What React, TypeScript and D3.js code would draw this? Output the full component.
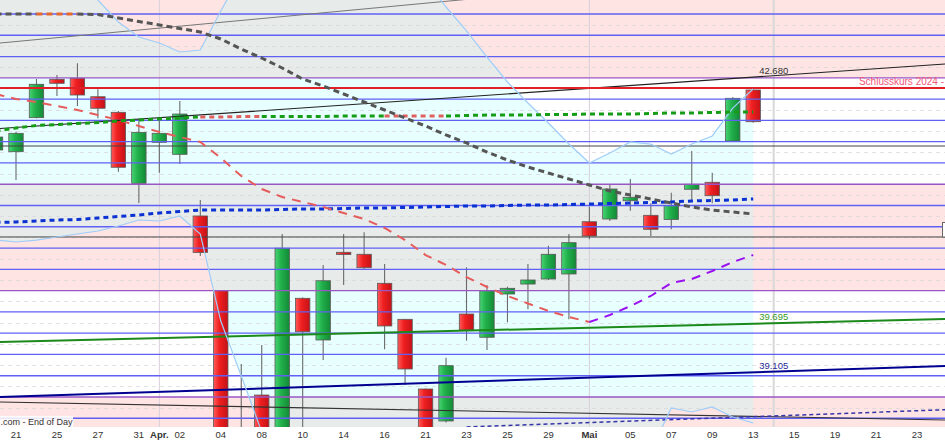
import React, { useRef, useEffect } from 'react';
import * as d3 from 'd3';

const W = 945;
const H = 442;
const PLOT_B = 427;
const FONT = '"Liberation Sans", Arial, sans-serif';

// trading days on the axis
const dates = [
  '2025-03-20', '2025-03-21', '2025-03-24', '2025-03-25', '2025-03-26', '2025-03-27', '2025-03-28',
  '2025-03-31', '2025-04-01', '2025-04-02', '2025-04-03', '2025-04-04', '2025-04-07', '2025-04-08',
  '2025-04-09', '2025-04-10', '2025-04-11', '2025-04-14', '2025-04-15', '2025-04-16', '2025-04-17',
  '2025-04-21', '2025-04-22', '2025-04-23', '2025-04-24', '2025-04-25', '2025-04-28', '2025-04-29',
  '2025-04-30', '2025-05-01', '2025-05-02', '2025-05-05', '2025-05-06', '2025-05-07', '2025-05-08',
  '2025-05-09', '2025-05-12', '2025-05-13', '2025-05-14', '2025-05-15', '2025-05-16', '2025-05-19',
  '2025-05-20', '2025-05-21', '2025-05-22', '2025-05-23', '2025-05-26',
];
const tickLabels = [
  '', '21', '', '25', '', '27', '', '31', 'Apr.', '02', '', '04', '', '08', '', '10', '', '14', '',
  '16', '', '21', '', '23', '', '25', '', '29', '', 'Mai', '', '05', '', '07', '', '09', '', '13', '',
  '15', '', '19', '', '21', '', '23', '',
];

// OHLC
const open = [41.776, 41.755, 42.168, 42.634, 42.646, 42.422, 42.233, 41.371, 41.869, 41.723, 40.975, 40.068, 37.6, 38.802, 38.3, 39.976, 39.47, 40.534, 40.51, 40.158, 39.721, 38.875, 38.487, 39.785, 39.503, 40.028, 40.149, 40.21, 40.271, 40.905, 40.938, 41.16, 40.983, 40.932, 41.299, 41.384, 41.885, 42.504];
const high = [42.018, 41.998, 42.637, 42.686, 42.828, 42.512, 42.249, 42.152, 42.164, 42.37, 41.169, 40.075, 39.178, 39.409, 40.756, 39.985, 40.38, 40.756, 40.777, 40.392, 39.726, 38.88, 39.255, 40.352, 40.137, 40.117, 40.392, 40.614, 40.756, 41.087, 41.351, 41.424, 41.129, 41.257, 41.763, 41.5, 42.415, 42.512];
const low = [41.654, 41.412, 42.16, 42.431, 42.31, 42.16, 41.512, 41.132, 41.5, 41.606, 40.489, 37.9, 37.0, 38.0, 38.1, 38.35, 39.227, 40.137, 40.319, 39.357, 38.924, 38.2, 38.47, 39.461, 39.348, 39.685, 39.842, 40.198, 39.721, 40.692, 40.914, 41.039, 40.732, 40.813, 41.148, 41.129, 41.879, 42.107];
const close = [41.933, 41.978, 42.573, 42.585, 42.443, 42.282, 41.566, 41.99, 41.978, 42.212, 40.532, 38.05, 38.1, 38.2, 40.583, 39.57, 40.189, 40.507, 40.347, 39.64, 39.118, 38.3, 39.158, 39.591, 40.068, 40.097, 40.198, 40.51, 40.651, 40.732, 41.302, 41.202, 40.813, 41.1, 41.359, 41.221, 42.403, 42.119];

// moving averages
const maGrey = [43.426, 43.426, 43.426, 43.426, 43.426, 43.42, 43.378, 43.335, 43.293, 43.25, 43.208, 43.123, 43.001, 42.892, 42.771, 42.637, 42.552, 42.455, 42.358, 42.261, 42.164, 42.067, 41.958, 41.861, 41.751, 41.654, 41.569, 41.496, 41.424, 41.351, 41.278, 41.229, 41.181, 41.132, 41.084, 41.047, 41.023, 40.999];
const maGreen = [42.006, 42.043, 42.073, 42.085, 42.097, 42.109, 42.128, 42.14, 42.152, 42.164, 42.176, 42.176, 42.182, 42.182, 42.182, 42.182, 42.182, 42.188, 42.188, 42.188, 42.188, 42.188, 42.188, 42.194, 42.2, 42.2, 42.2, 42.206, 42.206, 42.212, 42.212, 42.212, 42.219, 42.225, 42.225, 42.231, 42.237, 42.237];
const maBlue = [40.896, 40.902, 40.914, 40.926, 40.932, 40.95, 40.969, 40.987, 41.011, 41.029, 41.047, 41.047, 41.047, 41.047, 41.054, 41.06, 41.06, 41.066, 41.072, 41.072, 41.078, 41.084, 41.09, 41.096, 41.096, 41.102, 41.108, 41.108, 41.114, 41.12, 41.126, 41.132, 41.138, 41.145, 41.157, 41.163, 41.169, 41.181];
const maRed = [42.455, 42.395, 42.358, 42.31, 42.261, 42.2, 42.14, 42.067, 41.994, 41.933, 41.873, 41.679, 41.46, 41.302, 41.205, 41.145, 41.084, 41.011, 40.938, 40.829, 40.683, 40.501, 40.38, 40.234, 40.113, 40.004, 39.913, 39.822, 39.749, 39.688, 39.773, 39.882, 40.004, 40.162, 40.21, 40.307, 40.416, 40.501];
const greyOrangeRuns = [[2, 4]];
const greenRedRuns = [[10, 13], [19, 22]];
const redPurpleRuns = [[29, 37]];

// bollinger bands
const bbUpper = [44.324, 44.203, 44.081, 43.96, 43.814, 43.596, 43.329, 43.147, 43.074, 42.965, 42.989, 43.462, 43.912, 44.203, 44.421, 44.543, 44.615, 44.628, 44.567, 44.446, 44.263, 43.839, 43.511, 43.22, 42.904, 42.601, 42.346, 42.103, 41.848, 41.618, 41.739, 41.873, 41.848, 41.727, 41.848, 41.946, 42.285, 42.516];
const bbLower = [40.683, 40.659, 40.683, 40.72, 40.756, 40.793, 40.853, 40.926, 40.914, 40.975, 40.756, 39.7, 39.033, 38.353, 37.892, 37.528, 37.285, 37.164, 37.043, 36.982, 36.921, 36.8, 36.8, 36.861, 36.982, 37.103, 37.285, 37.467, 37.649, 37.771, 37.892, 38.013, 38.123, 38.645, 38.596, 38.657, 38.535, 38.463];

// horizontal price levels
const gridLevels = [43.426, 43.168, 42.91, 42.651, 42.393, 42.135, 41.877, 41.619, 41.36, 41.102, 40.844, 40.586, 40.327, 40.069, 39.811, 39.553, 39.295, 39.036, 38.778, 38.52];
const zoneLevels = [42.651, 41.36, 40.069, 38.778];
const flatLevels = [41.824, 40.72];
const closePrev = 42.528;

// trendlines: [idxA, priceA, idxB, priceB]
const trendBlack = [[1, 43.092, 21, 43.557], [1, 42.049, 46, 42.813], [1, 38.714, 46, 38.5]];
const trendGreen = [1, 39.45, 46, 39.722];
const trendNavy = [1, 38.784, 46, 39.151];
const trendNavyDash = [23, 38.414, 46, 38.62];

const lineLabels = [
  { text: '42.680', value: 42.68, color: '#333' },
  { text: '39.695', value: 39.695, color: '#3a9a2a' },
  { text: '39.105', value: 39.105, color: '#2a2a99' },
];

const App: React.FC = () => {
  const svgRef = useRef<SVGSVGElement>(null);

  useEffect(() => {
    if (!svgRef.current) return;
    const svg = d3.select(svgRef.current);
    svg.selectAll('*').remove();

    const x = d3.scalePoint<string>().domain(dates).range([-4.48, 937.5]);
    const y = d3.scaleLinear().domain([38.414, 43.596]).range([PLOT_B, 0]);
    const xi = (i: number) => x(dates[i]) as number;
    const xf = (t: number) => xi(0) + t * x.step();

    const defs = svg.append('defs');
    defs.append('clipPath').attr('id', 'plot')
      .append('rect').attr('x', 0).attr('y', 0).attr('width', W).attr('height', PLOT_B);
    const grad = (id: string, stops: [number, string][]) => {
      const lg = defs.append('linearGradient').attr('id', id)
        .attr('x1', '0%').attr('x2', '100%').attr('y1', '0%').attr('y2', '0%');
      stops.forEach(([o, c]) => lg.append('stop').attr('offset', o).attr('stop-color', c));
    };
    grad('gRed', [[0, '#ff5a5a'], [0.4, '#f02020'], [1, '#c41218']]);
    grad('gGreen', [[0, '#48d474'], [0.4, '#22b24c'], [1, '#138a36']]);

    svg.append('rect').attr('width', W).attr('height', H).attr('fill', '#fff');

    const g = svg.append('g').attr('clip-path', 'url(#plot)');

    // zone bands
    const edges = [y.domain()[1], ...zoneLevels, y.domain()[0]];
    d3.pairs(edges).forEach(([a, b], k) => {
      g.append('rect').attr('x', 0).attr('width', W)
        .attr('y', y(a)).attr('height', y(b) - y(a))
        .attr('fill', k % 2 === 0 ? '#ffe4e4' : '#ffffff');
    });

    // band fill
    const area = d3.area<number>()
      .x((_, i) => xi(i))
      .y0((_, i) => y(bbLower[i]))
      .y1((d) => y(d));
    g.append('path').datum(bbUpper).attr('d', area).attr('fill', 'rgba(165,255,250,0.27)');

    // minor dashed grid
    d3.pairs(gridLevels).forEach(([a, b]) => {
      const yy = Math.round(y((a + b) / 2)) + 0.5;
      g.append('line').attr('x1', 0).attr('x2', W).attr('y1', yy).attr('y2', yy)
        .attr('stroke', '#d6d6d6').attr('stroke-dasharray', '4,4').attr('opacity', 0.7);
    });

    // vertical lines
    [8, 29].forEach((i) => {
      g.append('line').attr('x1', xi(i)).attr('x2', xi(i)).attr('y1', 0).attr('y2', PLOT_B)
        .attr('stroke', '#d9cfd9').attr('stroke-width', 1);
    });
    g.append('line').attr('x1', xi(38)).attr('x2', xi(38)).attr('y1', 0).attr('y2', PLOT_B)
      .attr('stroke', '#d8d8d8').attr('stroke-width', 2);

    // candles
    const cw = 14.4;
    const cg = g.append('g');
    open.forEach((o, i) => {
      const cx = xi(i);
      cg.append('line').attr('x1', cx).attr('x2', cx).attr('y1', y(high[i])).attr('y2', y(low[i]))
        .attr('stroke', '#6a6a6a').attr('stroke-width', 1.1);
      const up = close[i] >= o;
      const top = y(Math.max(o, close[i]));
      const bot = y(Math.min(o, close[i]));
      cg.append('rect').attr('x', cx - cw / 2).attr('width', cw)
        .attr('y', top).attr('height', Math.max(1.5, bot - top))
        .attr('fill', up ? 'url(#gGreen)' : 'url(#gRed)')
        .attr('stroke', '#5a5a5a').attr('stroke-width', 0.8);
    });

    // grid lines
    gridLevels.forEach((p) => {
      const yy = y(p);
      const isZone = zoneLevels.includes(p);
      g.append('line').attr('x1', 0).attr('x2', W).attr('y1', yy).attr('y2', yy)
        .attr('stroke', isZone ? '#9a56c4' : '#6060f4').attr('stroke-width', 1.3);
    });

    // trendlines
    const trend = (t: number[], from: number, to: number) => {
      const [ia, pa, ib, pb] = t;
      const slope = (pb - pa) / (ib - ia);
      const at = (k: number) => pa + (k - ia) * slope;
      return { x1: xf(from), y1: y(at(from)), x2: xf(to), y2: y(at(to)) };
    };
    const drawTrend = (t: number[], color: string, w: number, dash?: string, from = -1) => {
      const c = trend(t, from, 48);
      const l = g.append('line').attr('x1', c.x1).attr('y1', c.y1).attr('x2', c.x2).attr('y2', c.y2)
        .attr('stroke', color).attr('stroke-width', w);
      if (dash) l.attr('stroke-dasharray', dash);
    };
    flatLevels.forEach((p) => {
      g.append('line').attr('x1', 0).attr('x2', W).attr('y1', y(p)).attr('y2', y(p))
        .attr('stroke', '#444').attr('stroke-width', 1);
    });
    drawTrend(trendBlack[0], '#777', 1);
    drawTrend(trendBlack[1], '#222', 1.1);
    drawTrend(trendBlack[2], '#333', 1.1);
    drawTrend(trendGreen, '#1b8a1b', 2);
    drawTrend(trendNavy, '#000090', 2);
    drawTrend(trendNavyDash, '#3535a8', 1.5, '4,3', trendNavyDash[0]);

    g.append('line').attr('x1', 0).attr('x2', W).attr('y1', y(closePrev)).attr('y2', y(closePrev))
      .attr('stroke', '#e02228').attr('stroke-width', 2.2);

    // bollinger lines
    const line = d3.line<number>().x((_, i) => xi(i)).y((d) => y(d));
    [bbUpper, bbLower].forEach((arr) => {
      g.append('path').datum(arr).attr('d', line).attr('fill', 'none')
        .attr('stroke', '#9fcdf8').attr('stroke-width', 1.2);
    });

    // moving averages with colored runs
    const drawMA = (vals: number[], base: string, runs: number[][], alt: string, w: number, dash: string) => {
      const colorAt = (i: number) => (runs.some(([a, b]) => i >= a && i < b) ? alt : base);
      let start = 0;
      for (let i = 1; i <= vals.length - 1; i++) {
        const segColor = colorAt(i - 1);
        const next = i < vals.length - 1 ? colorAt(i) : null;
        if (next !== segColor) {
          const pts = d3.range(start, i + 1).map((k) => [xi(k), y(vals[k])] as [number, number]);
          g.append('path').attr('d', d3.line()(pts)).attr('fill', 'none')
            .attr('stroke', segColor).attr('stroke-width', w).attr('stroke-dasharray', dash);
          start = i;
        }
      }
    };
    drawMA(maBlue, '#0a32d2', [], '#0a32d2', 3, '5,4');
    drawMA(maRed, '#e65c5c', redPurpleRuns, '#9a10f0', 2, '9,7');
    drawMA(maGreen, '#169c16', greenRedRuns, '#e06060', 3, '5,4');
    drawMA(maGrey, '#555', greyOrangeRuns, '#e8682a', 3, '6,4');

    // box at right edge
    g.append('rect').attr('x', 942.5).attr('y', 222.5).attr('width', 20).attr('height', 14.5)
      .attr('fill', '#fff').attr('stroke', '#666');

    // line labels
    lineLabels.forEach((l) => {
      g.append('text').attr('x', xi(38)).attr('y', y(l.value) - 1)
        .attr('text-anchor', 'middle').attr('font-family', FONT).attr('font-size', 9.5)
        .attr('fill', l.color).text(l.text);
    });
    g.append('text').attr('x', 944).attr('y', y(closePrev) - 3)
      .attr('text-anchor', 'end')
      .attr('font-family', FONT).attr('font-size', 10).attr('fill', '#f0587a')
      .text('Schlusskurs 2024 -');

    // credit
    g.append('rect').attr('x', 0).attr('y', 416).attr('width', 73).attr('height', 11).attr('fill', '#fff').attr('opacity', 0.85);
    g.append('text').attr('x', 0.5).attr('y', 425).attr('font-family', FONT).attr('font-size', 9)
      .attr('fill', '#333').text('.com - End of Day');

    // x axis labels
    tickLabels.forEach((t, i) => {
      if (!t) return;
      const bold = !/^\d+$/.test(t);
      svg.append('text').attr('x', xi(i)).attr('y', 437.5)
        .attr('text-anchor', 'middle').attr('font-family', FONT).attr('font-size', 9.5)
        .attr('font-weight', bold ? 'bold' : 'normal').attr('fill', '#333').text(t);
    });
  }, []);

  return (
    <div style={{ position: 'absolute', left: 0, top: 0 }}>
      <svg ref={svgRef} width={W} height={H} style={{ display: 'block' }} />
    </div>
  );
};

export default App;
